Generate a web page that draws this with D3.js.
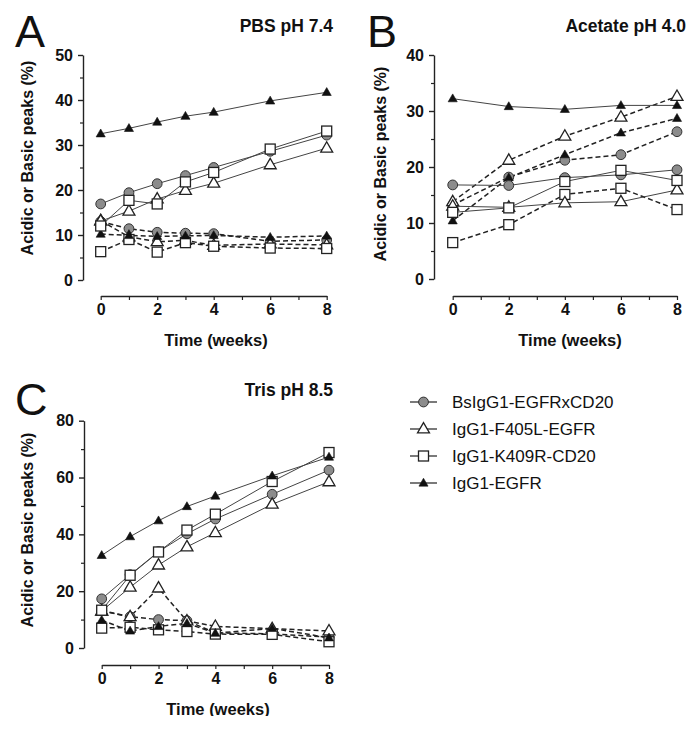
<!DOCTYPE html>
<html><head><meta charset="utf-8">
<script src="https://cdn.jsdelivr.net/npm/d3@7"></script>
<style>
body{margin:0;background:#fff;}
svg{display:block;font-family:"Liberation Sans",Arial,sans-serif;}
</style></head>
<body><svg id="c" width="700" height="733"></svg>
<script>
// ---- data ----
const seriesNames = ["BsIgG1-EGFRxCD20","IgG1-F405L-EGFR","IgG1-K409R-CD20","IgG1-EGFR"];
const seriesShapes = ["circle","openTriangle","square","filledTriangle"];

const weeksA = [0,1,2,3,4,6,8];
const pbsAcidic = [
  [16.9,19.4,21.4,23.2,25.0,28.6,32.2],
  [13.1,15.3,18.0,19.9,21.5,25.6,29.3],
  [12.0,17.7,16.9,21.8,23.9,29.1,33.1],
  [32.5,33.7,35.1,36.4,37.3,39.8,41.7]
];
const pbsBasic = [
  [13.0,11.4,10.6,10.4,10.3,8.6,8.9],
  [13.2,9.6,8.5,8.8,7.7,8.0,7.8],
  [6.3,9.0,6.2,8.3,7.5,7.1,7.0],
  [10.2,9.9,9.7,9.8,9.9,9.5,9.8]
];

const weeksB = [0,2,4,6,8];
const acetateAcidic = [
  [16.8,16.7,18.1,18.6,19.5],
  [13.0,12.8,13.6,13.8,15.9],
  [11.9,12.7,17.4,19.4,17.6],
  [32.2,30.8,30.3,31.0,31.0]
];
const acetateBasic = [
  [13.2,18.2,21.2,22.2,26.3],
  [13.8,21.2,25.5,28.9,32.6],
  [6.5,9.7,15.1,16.2,12.4],
  [10.4,18.1,22.2,26.1,28.7]
];

const weeksC = [0,1,2,3,4,6,8];
const trisAcidic = [
  [17.3,25.8,33.9,40.2,45.4,54.1,62.6],
  [13.0,21.4,29.2,35.6,40.6,50.6,58.5],
  [13.3,25.6,33.8,41.5,47.1,58.6,68.8],
  [32.6,39.2,44.8,49.8,53.5,60.6,67.2]
];
const trisBasic = [
  [13.2,11.0,10.0,9.6,5.3,5.0,3.8],
  [13.0,11.0,21.1,9.5,7.6,6.8,6.0],
  [7.0,7.3,6.4,5.8,4.9,4.8,2.2],
  [9.8,6.0,7.6,8.7,5.2,6.9,3.6]
];

const xTicks = [0,1,2,3,4,5,6,7,8];
const xLabels = [0,2,4,6,8];
const yTicksA = [0,10,20,30,40,50], yMinorA = [5,15,25,35,45];
const yTicksB = [0,10,20,30,40], yMinorB = [5,15,25,35];
const yTicksC = [0,20,40,60,80], yMinorC = [10,30,50,70];

const panels = [
  {letter:"A", title:"PBS pH 7.4", weeks:weeksA, acidic:pbsAcidic, basic:pbsBasic,
   yMax:50, yTicks:yTicksA, yMinor:yMinorA,
   x0:100.7, x1:326.7, yBot:280, yTop:55, yAxisX:83, xAxisY:296,
   letterX:15, letterY:47, titleX:333, titleY:32, yTitleX:27, yTitleY:158, xTitleX:216, xTitleY:346},
  {letter:"B", title:"Acetate pH 4.0", weeks:weeksB, acidic:acetateAcidic, basic:acetateBasic,
   yMax:40, yTicks:yTicksB, yMinor:yMinorB,
   x0:452.7, x1:677, yBot:279, yTop:55, yAxisX:434, xAxisY:296,
   letterX:367, letterY:47, titleX:686, titleY:32, yTitleX:380, yTitleY:164, xTitleX:570, xTitleY:346},
  {letter:"C", title:"Tris pH 8.5", weeks:weeksC, acidic:trisAcidic, basic:trisBasic,
   yMax:80, yTicks:yTicksC, yMinor:yMinorC,
   x0:101.7, x1:329, yBot:648, yTop:420.7, yAxisX:84, xAxisY:665,
   letterX:15, letterY:415, titleX:333, titleY:396, yTitleX:27, yTitleY:530, xTitleX:218, xTitleY:715}
];

const svg = d3.select("#c");

function drawMarker(g, shape, x, y) {
  if (shape === "circle") {
    g.append("circle").attr("cx",x).attr("cy",y).attr("r",4.9)
      .attr("fill","#8c8c8c").attr("stroke","#333").attr("stroke-width",1);
  } else if (shape === "square") {
    g.append("rect").attr("x",x-5).attr("y",y-5).attr("width",10).attr("height",10)
      .attr("fill","#fff").attr("stroke","#222").attr("stroke-width",1.3);
  } else if (shape === "openTriangle") {
    g.append("path").attr("d", d3.symbol().type(d3.symbolTriangle).size(62)())
      .attr("transform",`translate(${x},${y+0.5})`)
      .attr("fill","#fff").attr("stroke","#222").attr("stroke-width",1.3);
  } else {
    g.append("path").attr("d", d3.symbol().type(d3.symbolTriangle).size(36)())
      .attr("transform",`translate(${x},${y+0.5})`)
      .attr("fill","#111").attr("stroke","#111").attr("stroke-width",0.6);
  }
}

panels.forEach(p => {
  const g = svg.append("g");
  const x = d3.scaleLinear().domain([0,8]).range([p.x0,p.x1]);
  const y = d3.scaleLinear().domain([0,p.yMax]).range([p.yBot,p.yTop]);

  // y axis
  const yAx = g.append("g").attr("transform",`translate(${p.yAxisX},0)`)
    .call(d3.axisLeft(y).tickValues(p.yTicks).tickSize(5).tickSizeOuter(0).tickPadding(5).tickFormat(d3.format("d")));
  yAx.select(".domain").attr("stroke","#222").attr("stroke-width",1.4);
  yAx.selectAll(".tick line").attr("stroke","#222").attr("stroke-width",1.4);
  yAx.selectAll("text").attr("font-size",16).attr("font-weight","bold").attr("fill","#111")
     .attr("font-family",'"Liberation Sans",Arial,sans-serif');
  const yMin = g.append("g").attr("transform",`translate(${p.yAxisX},0)`)
    .call(d3.axisLeft(y).tickValues(p.yMinor).tickSize(3).tickFormat(""));
  yMin.select(".domain").remove();
  yMin.selectAll(".tick line").attr("stroke","#222").attr("stroke-width",1.2);

  // x axis
  const xAx = g.append("g").attr("transform",`translate(0,${p.xAxisY})`)
    .call(d3.axisBottom(x).tickValues(xTicks).tickSize(4).tickSizeOuter(0).tickPadding(4)
      .tickFormat(d => xLabels.includes(d) ? d : ""));
  xAx.select(".domain").attr("stroke","#222").attr("stroke-width",1.4);
  xAx.selectAll(".tick line").attr("stroke","#222").attr("stroke-width",1.2);
  xAx.selectAll("text").attr("font-size",16).attr("font-weight","bold").attr("fill","#111")
     .attr("font-family",'"Liberation Sans",Arial,sans-serif');

  // titles
  g.append("text").attr("x",p.letterX).attr("y",p.letterY).text(p.letter)
    .attr("font-size",45).attr("fill","#111");
  g.append("text").attr("x",p.titleX).attr("y",p.titleY).attr("text-anchor","end")
    .text(p.title).attr("font-size",17.5).attr("font-weight","bold").attr("fill","#111");
  g.append("text").attr("transform",`translate(${p.yTitleX},${p.yTitleY}) rotate(-90)`)
    .attr("text-anchor","middle").attr("dy","0.35em")
    .text("Acidic or Basic peaks (%)").attr("font-size",16).attr("font-weight","bold").attr("fill","#111");
  g.append("text").attr("x",p.xTitleX).attr("y",p.xTitleY).attr("text-anchor","middle")
    .text("Time (weeks)").attr("font-size",16.5).attr("font-weight","bold").attr("fill","#111");

  const line = d3.line().x(d => x(d[0])).y(d => y(d[1]));
  // basic (dashed)
  p.basic.forEach(vals => {
    g.append("path").attr("d", line(p.weeks.map((w,i)=>[w,vals[i]])))
      .attr("fill","none").attr("stroke","#222").attr("stroke-width",1.5).attr("stroke-dasharray","5,3");
  });
  // acidic (solid)
  p.acidic.forEach(vals => {
    g.append("path").attr("d", line(p.weeks.map((w,i)=>[w,vals[i]])))
      .attr("fill","none").attr("stroke","#444").attr("stroke-width",1);
  });
  const mk = g.append("g");
  [p.basic, p.acidic].forEach(set => {
    set.forEach((vals,si) => {
      p.weeks.forEach((w,i) => drawMarker(mk, seriesShapes[si], x(w), y(vals[i])));
    });
  });
});

// white cover to mimic the cropped bottom edge
svg.append("rect").attr("x",0).attr("y",716).attr("width",700).attr("height",17).attr("fill","#fff");

// legend
const leg = svg.append("g");
const legendY = d3.scalePoint().domain(seriesNames).range([402,483]);
seriesNames.forEach((n,i) => {
  const yy = legendY(n);
  leg.append("line").attr("x1",410).attr("x2",437).attr("y1",yy).attr("y2",yy)
    .attr("stroke","#222").attr("stroke-width",1.2);
  drawMarker(leg, seriesShapes[i], 423.5, yy);
  leg.append("text").attr("x",452).attr("y",yy).attr("dy","0.35em").text(n)
    .attr("font-size",17).attr("fill","#111");
});
</script></body></html>
